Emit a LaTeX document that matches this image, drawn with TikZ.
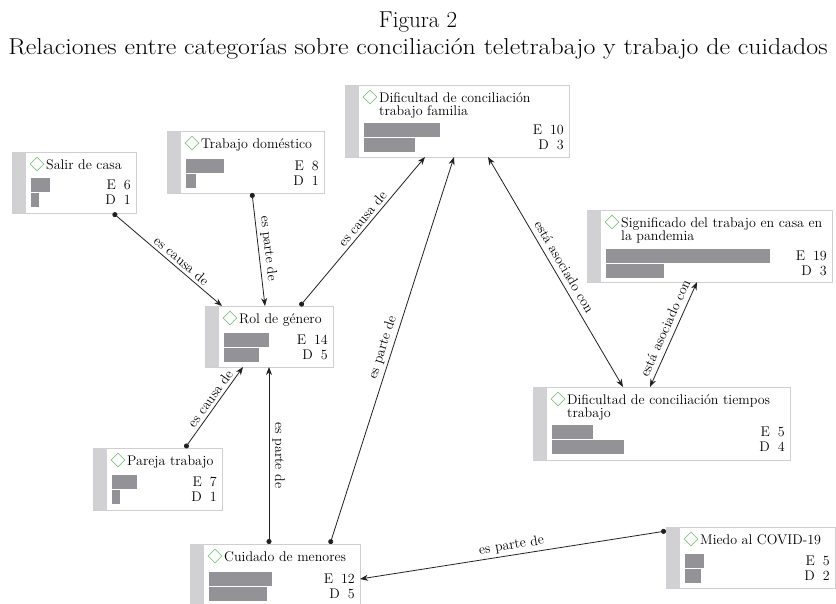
\documentclass[tikz,border=0pt]{standalone}
\usetikzlibrary{calc,shapes.geometric,arrows.meta}

\definecolor{boxline}{HTML}{CFCFCF}
\definecolor{boxstrip}{HTML}{D1D1D3}
\definecolor{barfill}{HTML}{939397}
\definecolor{markgreen}{HTML}{86C386}
\definecolor{inkgray}{HTML}{231F20}

\tikzset{
  catframe/.style={draw=boxline, line width=1pt, anchor=north west, inner sep=0pt, outer sep=0pt},
  catmark/.style={diamond, draw=markgreen, line width=0.7pt, minimum size=14pt, inner sep=0pt},
  cattitle/.style={anchor=base west, inner sep=0pt, font=\fontsize{14}{14}\selectfont},
  catcount/.style={anchor=base east, inner sep=0pt, font=\fontsize{14}{14}\selectfont},
  link/.style={line width=0.8pt, draw=inkgray, {Circle[length=5pt]}-{Stealth[length=8pt,width=6pt]}},
  rlink/.style={line width=0.8pt, draw=inkgray, {Stealth[length=8pt,width=6pt]}-{Circle[length=5pt]}},
  assoc/.style={line width=0.8pt, draw=inkgray, {Stealth[length=8pt,width=6pt]}-{Stealth[length=8pt,width=6pt]}},
  lab/.style={sloped, above, inner sep=3pt, font=\fontsize{14}{14}\selectfont},
}

% category box: name, left, top, width, height, first title line
\newcommand{\catbox}[6]{%
  \node[catframe, minimum width=#4pt, minimum height=#5pt] (#1) at (#2,#3) {};
  \fill[boxstrip] (#1.north west) rectangle ($(#1.south west)+(14,0)$);
  \node[catmark] (#1-mark) at ($(#1.north west)+(25,12)$) {};
  \node[cattitle] (#1-title) at ($(#1.north west)+(34,17)$) {#6};
}
% bars and counts: name, top of bars, E width, D width, E, D
\newcommand{\catbars}[6]{%
  \fill[barfill] ($(#1.north west)+(19,#2)$) rectangle ++(#3,14);
  \fill[barfill] ($(#1.north west)+(19,#2+15)$) rectangle ++(#4,14);
  \node[catcount] (#1-e) at ($(#1.north east)+(-5,#2+11)$) {E\hspace{8pt}#5};
  \node[catcount] (#1-d) at ($(#1.north east)+(-5,#2+26)$) {D\hspace{8pt}#6};
}

\begin{document}
\begin{tikzpicture}[x=1pt,y=-1pt]
  \useasboundingbox (0,0) rectangle (836,603);
  \clip (0,0) rectangle (836,603);

  % heading
  \node[anchor=base, font=\fontsize{23}{28}\selectfont] (fig) at (418,27) {Figura 2};
  \node[anchor=base, font=\fontsize{23}{28}\selectfont] (caption) at (418,54)
    {\scalebox{1.125}[1]{Relaciones entre categorías sobre conciliación teletrabajo y trabajo de cuidados}};

  % categories
  \catbox{salir}{12}{152}{124}{61}{Salir de casa}
  \catbars{salir}{26}{19}{8}{6}{1}

  \catbox{trabajo}{167}{131}{157}{62}{Trabajo doméstico}
  \catbars{trabajo}{28}{38}{10}{8}{1}

  \catbox{difFam}{345}{85}{224}{72}{Dificultad de conciliación}
  \node[cattitle] (difFam-title2) at ($(difFam.north west)+(34,30)$) {trabajo familia};
  \catbars{difFam}{38}{76}{51}{10}{3}

  \catbox{rol}{205}{306}{128}{61}{Rol de género}
  \catbars{rol}{27}{45}{35}{14}{5}

  \catbox{signif}{587}{210}{245}{72}{Significado del trabajo en casa en}
  \node[cattitle] (signif-title2) at ($(signif.north west)+(34,30)$) {la pandemia};
  \catbars{signif}{39}{164}{58}{19}{3}

  \catbox{difTiem}{533}{387}{257}{73}{Dificultad de conciliación tiempos}
  \node[cattitle] (difTiem-title2) at ($(difTiem.north west)+(34,30)$) {trabajo};
  \catbars{difTiem}{38}{41}{72}{5}{4}

  \catbox{pareja}{93}{448}{129}{62}{Pareja trabajo}
  \catbars{pareja}{27}{25}{8}{7}{1}

  \catbox{cuidado}{190}{544}{170}{62}{Cuidado de menores}
  \catbars{cuidado}{28}{63}{58}{12}{5}

  \catbox{miedo}{666}{527}{169}{61}{Miedo al COVID-19}
  \catbars{miedo}{27}{19}{16}{5}{2}

  % relations
  \draw[link] ($(salir.south west)+(101,0)$) -- ($(rol.north west)+(17,0)$)
    node[lab, pos=.58] {es causa de};
  \draw[link] ($(trabajo.south west)+(85,0)$) -- ($(rol.north west)+(60,0)$)
    node[lab, pos=.5] {es parte de};
  \draw[link] ($(rol.north west)+(95,0)$) -- ($(difFam.south west)+(80,0)$)
    node[lab, pos=.55] {es causa de};
  \draw[link] ($(cuidado.north west)+(140,0)$) -- ($(difFam.south west)+(109,0)$)
    node[lab, pos=.5] {es parte de};
  \draw[assoc] ($(difFam.south west)+(143,0)$) -- ($(difTiem.north west)+(90,0)$)
    node[lab, pos=.5, inner sep=5pt] {está asociado con};
  \draw[assoc] ($(difTiem.north west)+(117,0)$) -- ($(signif.south west)+(110,0)$)
    node[lab, pos=.52, inner sep=5pt] {está asociado con};
  \draw[link] ($(pareja.north west)+(92,0)$) -- ($(rol.south west)+(38,0)$)
    node[lab, pos=.55] {es causa de};
  \draw[rlink] ($(rol.south west)+(64,0)$) -- ($(cuidado.north west)+(79,0)$)
    node[lab, pos=.5] {es parte de};
  \draw[link] ($(miedo.north west)+(0,4)$) -- ($(cuidado.north east)+(0,35)$)
    node[lab, pos=.5] {es parte de};
\end{tikzpicture}
\end{document}
